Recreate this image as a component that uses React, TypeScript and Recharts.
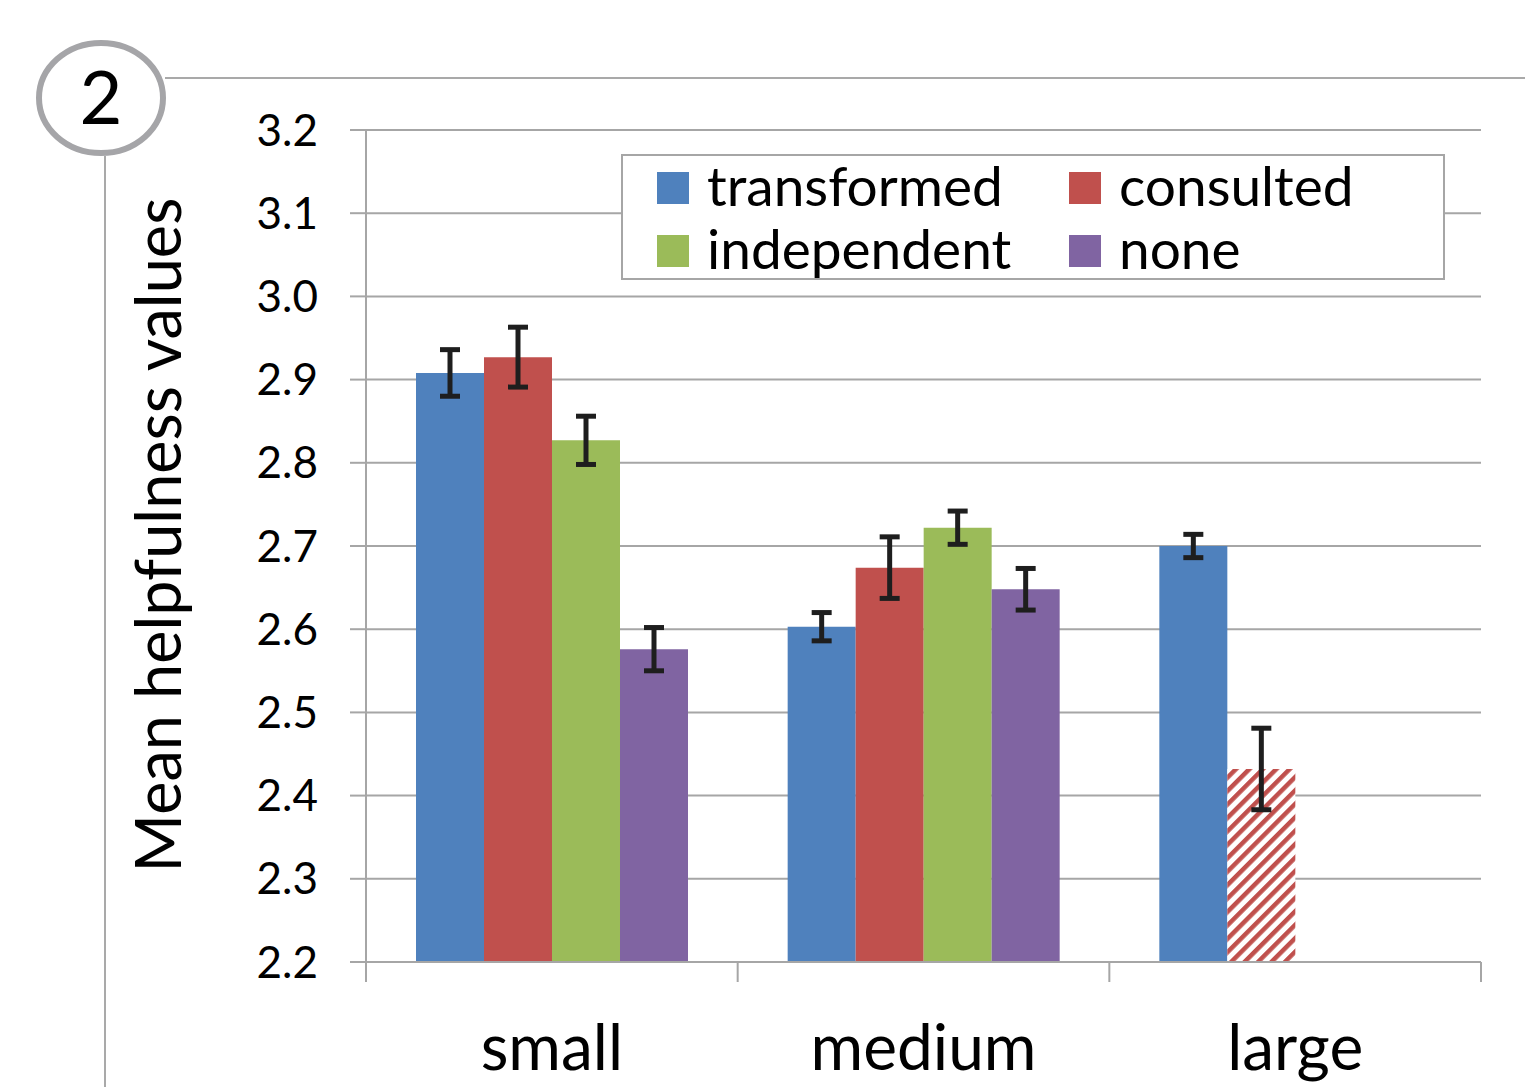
import { BarChart, Bar, XAxis, YAxis, CartesianGrid, Legend, ErrorBar, Cell } from "recharts"

const sizes = ["small", "medium", "large"]
const transformed = [2.908, 2.603, 2.7]
const transformedErr = [0.028, 0.017, 0.014]
const consulted = [2.927, 2.674, 2.432]
const consultedErr = [0.036, 0.037, 0.049]
const independent = [2.827, 2.722, null]
const independentErr = [0.029, 0.02, null]
const none = [2.576, 2.648, null]
const noneErr = [0.026, 0.025, null]
const yTicks = [2.2, 2.3, 2.4, 2.5, 2.6, 2.7, 2.8, 2.9, 3.0, 3.1, 3.2]

const series = [
  { key: "transformed", color: "#4f81bd" },
  { key: "consulted", color: "#c0504d" },
  { key: "independent", color: "#9bbb59" },
  { key: "none", color: "#8064a2" },
]

const data = sizes.map((size, i) => ({
  size,
  transformed: transformed[i],
  transformedErr: transformedErr[i],
  consulted: consulted[i],
  consultedErr: consultedErr[i],
  independent: independent[i],
  independentErr: independentErr[i],
  none: none[i],
  noneErr: noneErr[i],
}))

const W = 1525
const H = 1087
const margin = { top: 130, right: 44, bottom: 25, left: 286 }
const yAxisWidth = 80
const plotWidth = W - margin.left - margin.right - yAxisWidth
const halfBand = plotWidth / sizes.length / 2

const FONT = "Lato, sans-serif"
const GRID = "#a6a6a6"
const ERR = "#1e1e1e"

const XTick = (props: any) => {
  const { x, y, payload, index } = props
  return (
    <g>
      <line x1={x - halfBand} x2={x - halfBand} y1={y} y2={y + 20} stroke={GRID} strokeWidth={2} />
      {index === sizes.length - 1 && (
        <line x1={x + halfBand} x2={x + halfBand} y1={y} y2={y + 20} stroke={GRID} strokeWidth={2} />
      )}
      <text x={x} y={y + 108} textAnchor="middle" fontSize={64} fontFamily={FONT} fill="#000">
        {payload.value}
      </text>
    </g>
  )
}

// legend drawn from the series list so the order stays as in the original
const LegendBox = () => (
  <div
    style={{
      width: 824,
      height: 126,
      border: "2px solid #a6a6a6",
      background: "#fff",
      display: "grid",
      gridTemplateColumns: "412px 400px",
      gridTemplateRows: "63px 63px",
      paddingLeft: 34,
      boxSizing: "border-box",
      fontFamily: FONT,
      fontSize: 55,
    }}
  >
    {series.map((s) => (
      <div key={s.key} style={{ display: "flex", alignItems: "center" }}>
        <span style={{ display: "inline-block", width: 32, height: 32, background: s.color, marginRight: 18 }} />
        <span style={{ color: "#000", lineHeight: 1, position: "relative", top: -2 }}>{s.key}</span>
      </div>
    ))}
  </div>
)

export default function App() {
  return (
    <div style={{ position: "absolute", left: 0, top: 0, width: W, height: H, background: "#fff" }}>
      <svg width={0} height={0} style={{ position: "absolute" }}>
        <defs>
          <pattern id="hatch" patternUnits="userSpaceOnUse" width={9.5} height={9.5} patternTransform="rotate(45)">
            <rect x={0} y={0} width={9.5} height={9.5} fill="#fff" />
            <rect x={0} y={0} width={4.5} height={9.5} fill="#c0504d" />
          </pattern>
        </defs>
      </svg>
      <svg width={W} height={H} style={{ position: "absolute", left: 0, top: 0 }}>
        <line x1={165} x2={W} y1={78} y2={78} stroke="#8c8c8c" strokeWidth={1.5} />
        <line x1={105} x2={105} y1={156} y2={H} stroke="#8c8c8c" strokeWidth={1.5} />
        <ellipse cx={101} cy={98} rx={62} ry={55} fill="#fff" stroke="#a5a5a8" strokeWidth={6} />
        <text x={101} y={124} textAnchor="middle" fontSize={74} fontFamily={FONT} fill="#000">2</text>
        <text
          transform="translate(181, 535) rotate(-90)"
          textAnchor="middle"
          fontSize={63}
          fontFamily={FONT}
          fill="#000"
        >
          Mean helpfulness values
        </text>
      </svg>
      <div style={{ position: "absolute", left: 0, top: 0 }}>
        <BarChart width={W} height={H} data={data} margin={margin} barGap={0} barSize={68}>
          <CartesianGrid vertical={false} stroke={GRID} strokeWidth={2} />
          <XAxis
            dataKey="size"
            height={100}
            axisLine={{ stroke: GRID, strokeWidth: 2 }}
            tickLine={false}
            tickSize={0}
            tickMargin={0}
            tick={<XTick />}
            interval={0}
          />
          <YAxis
            width={yAxisWidth}
            domain={[2.2, 3.2]}
            ticks={yTicks}
            allowDataOverflow
            tickFormatter={(v: number) => v.toFixed(1)}
            axisLine={{ stroke: GRID, strokeWidth: 2 }}
            tickLine={{ stroke: GRID, strokeWidth: 2 }}
            tickSize={16}
            tickMargin={32}
            tick={{ fontSize: 44, fontFamily: FONT, fill: "#000" }}
          />
          <Legend
            content={<LegendBox />}
            layout="horizontal"
            verticalAlign="middle"
            align="center"
            wrapperStyle={{ position: "absolute", left: 621, top: 154, width: 824, height: 126 }}
          />
          <Bar dataKey="transformed" name="transformed" fill="#4f81bd" isAnimationActive={false}>
            <ErrorBar dataKey="transformedErr" width={10} strokeWidth={5} stroke={ERR} />
          </Bar>
          <Bar dataKey="consulted" name="consulted" fill="#c0504d" isAnimationActive={false}>
            {sizes.map((s) => (
              <Cell key={s} fill={s === "large" ? "url(#hatch)" : "#c0504d"} />
            ))}
            <ErrorBar dataKey="consultedErr" width={10} strokeWidth={5} stroke={ERR} />
          </Bar>
          <Bar dataKey="independent" name="independent" fill="#9bbb59" isAnimationActive={false}>
            <ErrorBar dataKey="independentErr" width={10} strokeWidth={5} stroke={ERR} />
          </Bar>
          <Bar dataKey="none" name="none" fill="#8064a2" isAnimationActive={false}>
            <ErrorBar dataKey="noneErr" width={10} strokeWidth={5} stroke={ERR} />
          </Bar>
        </BarChart>
      </div>
    </div>
  )
}
